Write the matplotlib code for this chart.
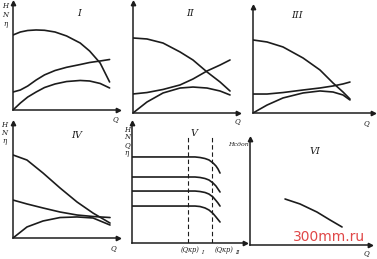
import matplotlib
matplotlib.use("Agg")
import matplotlib.pyplot as plt

W, H = 377, 259
INK = "#1c1c1c"

# ---------------- data (arbitrary units, axis length = 100) ----------------
# Panel I
q1 = [0, 7, 14, 22, 30, 40, 51, 64, 73, 83, 92]
h1 = [70.1, 72.9, 74.3, 74.8, 74.5, 72.9, 69.2, 62.6, 55.1, 43.9, 26.2]
n1 = [16.8, 18.7, 22.4, 28.0, 32.8, 36.9, 39.9, 42.5, 44.4, 45.8, 47.2]
e1 = [0, 6.5, 12.1, 16.8, 21.0, 24.3, 26.6, 27.6, 27.1, 24.8, 20.6]
# Panel II
q2 = [0, 13.3, 28.6, 44.8, 57.1, 70.5, 82.9, 92.4]
h2 = [68.2, 67.3, 63.6, 55.5, 48.2, 37.3, 28.2, 20.0]
n2 = [17.3, 18.6, 21.4, 25.5, 30.9, 38.2, 43.6, 48.2]
e2 = [0, 10.0, 18.2, 22.7, 23.6, 22.7, 20.0, 16.4]
# Panel III
q3 = [0, 11.7, 25, 41.7, 55.8, 66.7, 75, 80.8]
h3 = [68.9, 67.0, 62.3, 51.9, 40.6, 28.3, 19.8, 13.2]
n3 = [17.9, 17.9, 19.3, 21.7, 23.6, 25.5, 27.4, 29.2]
e3 = [0, 7.5, 14.2, 18.9, 20.8, 19.8, 17.0, 12.3]
# Panel IV
q4 = [0, 13.3, 28.6, 44.8, 61, 76.2, 92.4]
h4 = [72.2, 67.8, 56.5, 43.5, 31.3, 21.7, 13.0]
n4 = [33.0, 29.6, 26.1, 22.6, 20.0, 18.7, 17.8]
e4 = [0, 9.6, 14.8, 17.8, 18.3, 17.4, 11.3]
# Panel V
q5 = [0, 33.6, 55.8, 60.2, 64.6, 68.1, 71.7, 74.3, 76.1, 77.9]
v5a = [71.7, 71.7, 71.7, 71.25, 70.4, 69.2, 66.7, 64.2, 61.7, 58.3]
v5b = [55, 55, 55, 54.6, 53.75, 52.5, 50, 47.5, 45, 42.5]
v5c = [43.3, 43.3, 43.3, 42.9, 42.1, 40.8, 38.3, 35.4, 33.3, 30.8]
v5d = [30.8, 30.8, 30.8, 30.4, 29.2, 27.5, 24.6, 21.7, 19.6, 17.5]
qcrit5 = [49.6, 70.8]
qcrit_labels = ["(Qкр)", "(Qкр)"]
qcrit_subs = ["I", "II"]
# Panel VI
q6 = [29.2, 41.7, 55.8, 66.7, 76.7]
h6 = [43.4, 38.7, 31.1, 23.6, 17.0]

titles = ["I", "II", "III", "IV", "V", "VI"]

# ---------------- figure ----------------
fig = plt.figure(figsize=(W / 100, H / 100), dpi=100)
fig.patch.set_facecolor("white")


def fx(px):
    return px / W


def fy(py):
    return 1 - py / H


def make_axes(x0, y0, x1, ytop):
    ax = fig.add_axes([fx(x0), fy(y0), (x1 - x0) / W, (y0 - ytop) / H])
    ax.set_xlim(0, 100)
    ax.set_ylim(0, 100)
    ax.patch.set_alpha(0)
    for s in ("top", "right"):
        ax.spines[s].set_visible(False)
    for s in ("left", "bottom"):
        ax.spines[s].set_color(INK)
        ax.spines[s].set_linewidth(1.1)
    ax.set_xticks([])
    ax.set_yticks([])
    ax.plot(1, 0, marker=">", ms=3.2, color=INK, transform=ax.transAxes, clip_on=False)
    ax.plot(0, 1, marker="^", ms=3.2, color=INK, transform=ax.transAxes, clip_on=False)
    return ax


def ftext(px, py, s, size=5.5, **kw):
    fig.text(fx(px), fy(py), s, fontsize=size, color=INK, ha="center", va="center",
             style="italic", family="DejaVu Serif", **kw)


lw = 1.2
kw = dict(color=INK, lw=lw, solid_joinstyle="round", solid_capstyle="round")
axI = make_axes(13, 110, 118, 3)
for y in (h1, n1, e1):
    axI.plot(q1, y, **kw)
axII = make_axes(133, 113, 238, 3)
for y in (h2, n2, e2):
    axII.plot(q2, y, **kw)
axIII = make_axes(253, 113, 373, 7)
for y in (h3, n3, e3):
    axIII.plot(q3, y, **kw)
axIV = make_axes(13, 238, 118, 123)
for y in (h4, n4, e4):
    axIV.plot(q4, y, **kw)
axV = make_axes(132, 243, 245, 123)
for y in (v5a, v5b, v5c, v5d):
    axV.plot(q5, y, **kw)
for q in qcrit5:
    axV.plot([q, q], [0, 90], color=INK, lw=0.8, ls=(0, (4, 2.5)))
axVI = make_axes(250, 245, 370, 139)
axVI.plot(q6, h6, **kw)

# titles
ftext(79, 13, titles[0], size=7)
ftext(190, 13, titles[1], size=7)
ftext(297, 15, titles[2], size=7)
ftext(77, 135, titles[3], size=7)
ftext(194, 133, titles[4], size=7)
ftext(315, 152, titles[5], size=7)

# axis letters
for (px, py, s) in [(5, 6, "H"), (5, 15, "N"), (5, 24, "η"),
                    (4, 125, "H"), (4, 133, "N"), (4, 141, "η"),
                    (127, 130, "H"), (127, 137, "N"), (127, 145, "Q"), (126, 153, "η")]:
    ftext(px, py, s, size=5)
for (px, py) in [(115, 119), (237, 121), (366, 123), (113, 248), (366, 253)]:
    ftext(px, py, "Q", size=5)
ftext(238, 144, "Нсдоп", size=4.5)

for cx, lab, sub in zip([190, 224], qcrit_labels, qcrit_subs):
    fig.text(fx(cx), fy(250), lab, fontsize=4.8, color=INK, ha="center", va="center",
             style="italic", family="DejaVu Serif")
    fig.text(fx(cx + 11), fy(252), sub, fontsize=4, color=INK, ha="left", va="center",
             style="italic", family="DejaVu Serif")

# watermark
fig.text(fx(329), fy(237), "300mm.ru", fontsize=10, color="#e04848",
         ha="center", va="center", family="DejaVu Sans")

fig.savefig("out.png", dpi=100, facecolor="white")
